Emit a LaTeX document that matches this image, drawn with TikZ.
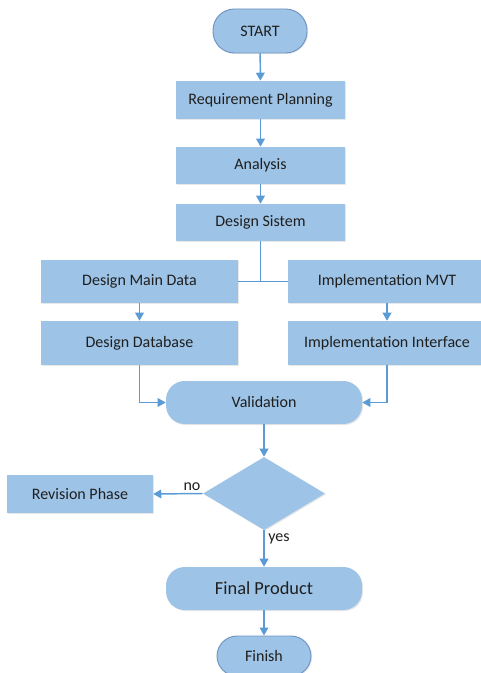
\documentclass[tikz,border=0pt]{standalone}
\usepackage{fontspec}
\setmainfont{Carlito}
\usetikzlibrary{shapes.geometric,arrows.meta,shadows}
\definecolor{boxfill}{HTML}{9DC3E6}
\definecolor{boxline}{HTML}{6F93C4}
\definecolor{arrowc}{HTML}{5B9BD5}
\definecolor{txt}{HTML}{1F1F1F}
\tikzset{
  base/.style={fill=boxfill, inner sep=0pt, text=txt, font=\fontsize{12pt}{14pt}\selectfont,
    drop shadow={shadow xshift=0.8pt, shadow yshift=-0.8pt, opacity=0.18}},
  procbox/.style={base, rectangle},
  termbox/.style={base, rectangle, draw=boxline, line width=0.7pt, rounded corners=16pt},
  roundbox/.style={base, rectangle, rounded corners=14pt},
  decbox/.style={base, diamond},
  flow/.style={draw=arrowc, line width=1.1pt, -{Triangle[length=6pt,width=6.5pt]}},
  plainflow/.style={draw=arrowc, line width=1.1pt},
  lbl/.style={text=txt, inner sep=0pt, font=\fontsize{12pt}{14pt}\selectfont}
}
\begin{document}
\begin{tikzpicture}[x=0.75pt,y=-0.75pt]
\useasboundingbox (0,0) rectangle (480,673);
\node[termbox, minimum width=70.5pt, minimum height=33pt] (start) at (260,31) {START};
\node[procbox, minimum width=126.75pt, minimum height=28.5pt] (req) at (260.5,100) {Requirement Planning};
\node[procbox, minimum width=126.75pt, minimum height=27.75pt] (ana) at (260.5,165.5) {Analysis};
\node[procbox, minimum width=126.75pt, minimum height=27.75pt] (ds) at (260.5,222.5) {Design Sistem};
\node[procbox, minimum width=147.75pt, minimum height=32.25pt] (dmd) at (139.5,281.5) {Design Main Data};
\node[procbox, minimum width=148.5pt, minimum height=32.25pt] (imvt) at (387,281.5) {Implementation MVT};
\node[procbox, minimum width=147.75pt, minimum height=33pt] (dd) at (139.5,343) {Design Database};
\node[procbox, minimum width=148.5pt, minimum height=33pt] (ii) at (387,343) {Implementation Interface};
\node[roundbox, minimum width=147pt, minimum height=32.25pt] (val) at (264,402.5) {Validation};
\node[decbox, minimum width=91.5pt, minimum height=54.75pt] (dec) at (264,493.5) {};
\node[procbox, minimum width=109.5pt, minimum height=28.5pt] (rev) at (80,494) {Revision Phase};
\node[roundbox, minimum width=147pt, minimum height=32.25pt, font=\fontsize{13.8pt}{15pt}\selectfont] (fp) at (264,588.5) {Final Product};
\node[termbox, minimum width=70.5pt, minimum height=30pt, rounded corners=15pt] (fin) at (264,656) {Finish};
\coordinate (jn) at (ds.south |- dmd.east);
\draw[flow] (start) -- (req);
\draw[flow] (req) -- (ana);
\draw[flow] (ana) -- (ds);
\draw[plainflow] (ds.south) -- (jn);
\draw[plainflow] (dmd.east) -- (imvt.west);
\draw[flow] (dmd) -- (dd);
\draw[flow] (imvt) -- (ii);
\draw[flow] (dd.south) |- (val.west);
\draw[flow] (ii.south) |- (val.east);
\draw[flow] (val) -- (dec.north);
\draw[flow] (dec.west) -- (rev.east);
\draw[flow] (dec.south) -- (fp.north);
\draw[flow] (fp) -- (fin);
\node[lbl] (no) at (192,487) {no};
\node[lbl] (yes) at (279,539) {yes};
\end{tikzpicture}
\end{document}
